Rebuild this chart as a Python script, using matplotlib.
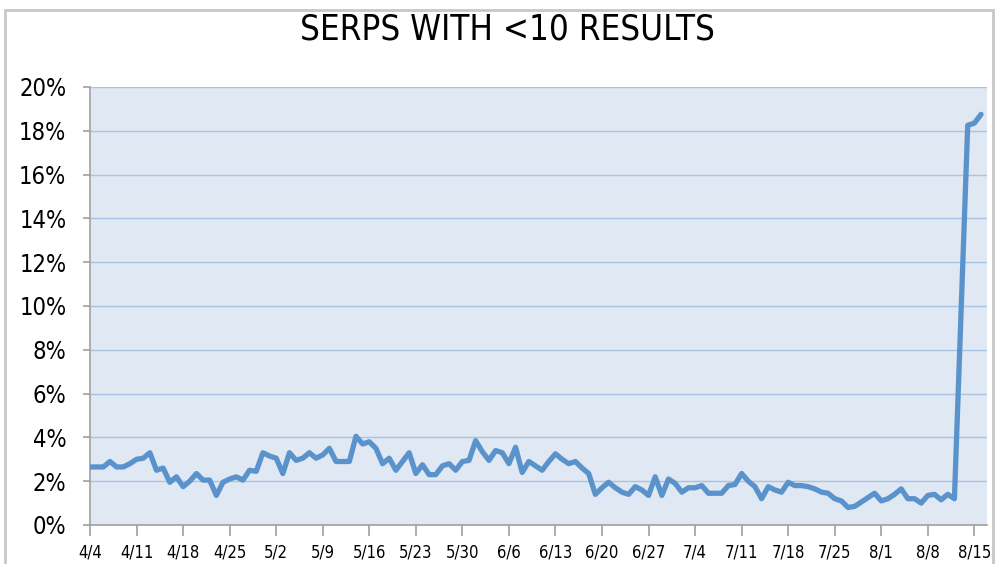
import matplotlib
matplotlib.use("Agg")
import matplotlib.pyplot as plt
from matplotlib.patches import Rectangle
from matplotlib.font_manager import FontProperties
from matplotlib import font_manager
import pandas as pd

title = "SERPS WITH <10 RESULTS"

# daily share of SERPs with <10 results (%), 4/4 .. 8/16 (8/13 missing)
values = [
    2.65, 2.65, 2.65, 2.9, 2.65, 2.65, 2.8, 3.0, 3.05, 3.3,      # 4/4-4/13
    2.5, 2.6, 1.95, 2.2, 1.75, 2.0, 2.35, 2.05, 2.05, 1.35,      # 4/14-4/23
    1.95, 2.1, 2.2, 2.05, 2.5, 2.45, 3.3, 3.15, 3.05, 2.35,      # 4/24-5/3
    3.3, 2.95, 3.05, 3.3, 3.05, 3.2, 3.5, 2.9, 2.9, 2.9,         # 5/4-5/13
    4.05, 3.7, 3.8, 3.5, 2.8, 3.05, 2.5, 2.9, 3.3, 2.35,         # 5/14-5/23
    2.75, 2.3, 2.3, 2.7, 2.8, 2.5, 2.9, 2.95, 3.85, 3.35,        # 5/24-6/2
    2.95, 3.4, 3.3, 2.8, 3.55, 2.4, 2.9, 2.7, 2.5, 2.9,          # 6/3-6/12
    3.25, 3.0, 2.8, 2.9, 2.6, 2.35, 1.4, 1.7, 1.95, 1.7,         # 6/13-6/22
    1.5, 1.4, 1.75, 1.6, 1.35, 2.2, 1.35, 2.1, 1.9, 1.5,         # 6/23-7/2
    1.7, 1.7, 1.8, 1.45, 1.45, 1.45, 1.8, 1.85, 2.35, 2.0,       # 7/3-7/12
    1.75, 1.2, 1.75, 1.6, 1.5, 1.95, 1.8, 1.8, 1.75, 1.65,       # 7/13-7/22
    1.5, 1.45, 1.2, 1.1, 0.8, 0.85, 1.05, 1.25, 1.45, 1.1,       # 7/23-8/1
    1.2, 1.4, 1.65, 1.2, 1.2, 1.0, 1.35, 1.4, 1.15, 1.4,         # 8/2-8/11
    1.2, 18.25, 18.35, 18.75,                                    # 8/12, 8/14-8/16
]
start_date = "2013-04-04"
end_date = "2013-08-16"
missing_dates = ["2013-08-13"]

tick_labels = ["4/4", "4/11", "4/18", "4/25", "5/2", "5/9", "5/16", "5/23",
               "5/30", "6/6", "6/13", "6/20", "6/27", "7/4", "7/11", "7/18",
               "7/25", "8/1", "8/8", "8/15"]
y_ticks = [0, 2, 4, 6, 8, 10, 12, 14, 16, 18, 20]

# find a condensed / narrow face if one is installed
cond_file = None
for f in font_manager.fontManager.ttflist:
    nm = (f.name + " " + str(f.stretch) + " " + f.fname).lower()
    if ("condensed" in nm or "narrow" in nm) and f.style == "normal" \
            and ("bold" not in f.fname.lower()) and ("oblique" not in f.fname.lower()):
        if "dejavusans" in f.fname.lower().replace("-", "") or cond_file is None:
            cond_file = f.fname


def fp(size):
    if cond_file:
        return FontProperties(fname=cond_file, size=size)
    return FontProperties(family="DejaVu Sans", size=size)


dates = pd.date_range(start_date, end_date, freq="D")
dates = dates[~dates.isin(pd.to_datetime(missing_dates))]
t0 = pd.Timestamp(start_date)
xdays = [(d - t0).days for d in dates]

W, H = 998, 564
fig = plt.figure(figsize=(W / 100, H / 100), dpi=100)
fig.patch.set_facecolor("white")

fig.patches.append(Rectangle((5 / W, -0.02), 988 / W, 1 - 10 / H + 0.02,
                             transform=fig.transFigure, fill=False,
                             edgecolor="#c8c8c8", linewidth=2))

ax = fig.add_axes([90 / W, 1 - 525 / H, 897 / W, 438 / H])
ax.set_facecolor("#dfe8f3")

for yv in y_ticks[1:]:
    ax.axhline(yv, color="#a9c3e3", linewidth=1.0, zorder=1)

ax.plot(xdays, values, color="#5a93cb", linewidth=3.8,
        solid_joinstyle="round", solid_capstyle="round", zorder=3)

ax.set_xlim(0, 134.9)
ax.set_ylim(0, 20)

tick_pos = [7 * i for i in range(len(tick_labels))]
ax.set_xticks(tick_pos)
ax.set_xticklabels(tick_labels, fontproperties=fp(12))
ax.set_yticks(y_ticks)
ax.set_yticklabels([f"{v}%" for v in y_ticks], fontproperties=fp(17))

for s in ["top", "right"]:
    ax.spines[s].set_visible(False)
for s in ["left", "bottom"]:
    ax.spines[s].set_color("#a0a0a0")
    ax.spines[s].set_linewidth(1.2)
ax.tick_params(axis="x", direction="out", length=8, width=1.2, color="#a0a0a0",
               pad=5, labelcolor="black")
ax.tick_params(axis="y", direction="out", length=5, width=1.2, color="#a0a0a0",
               pad=12, labelcolor="black")

fig.text(507 / W, 1 - 30 / H, title, ha="center", va="center",
         fontproperties=fp(25), color="black")

fig.savefig("out.png", dpi=100)
